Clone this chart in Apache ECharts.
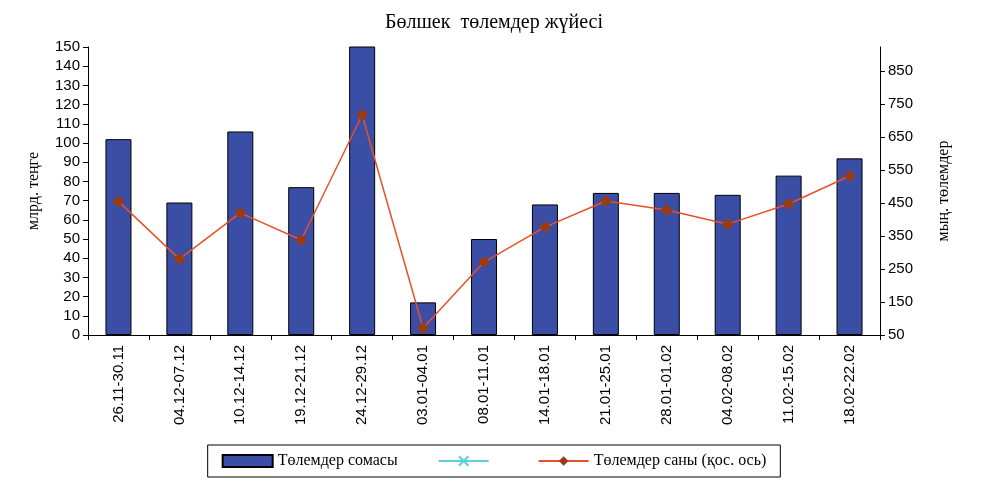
<!DOCTYPE html>
<html>
<head>
<meta charset="utf-8">
<script src="https://cdn.jsdelivr.net/npm/echarts@6/dist/echarts.min.js"></script>
<style>
  html, body { margin: 0; padding: 0; background: #fff; }
  #chart { width: 988px; height: 486px; }
</style>
</head>
<body>
<div id="chart"></div>
<script>
// Деректер
var categories = ['26.11-30.11', '04.12-07.12', '10.12-14.12', '19.12-21.12', '24.12-29.12', '03.01-04.01',
  '08.01-11.01', '14.01-18.01', '21.01-25.01', '28.01-01.02', '04.02-08.02', '11.02-15.02', '18.02-22.02'];
var sumValues = [102, 69, 106, 77, 160, 17, 50, 68, 74, 74, 73, 83, 92];
var countValues = [455, 280, 420, 338, 717, 71, 271, 377, 456, 429, 386, 447, 532];
var emptyValues = categories.map(function () { return null; });

var myChart = echarts.init(document.getElementById('chart'));
var axisCommon = {
  axisLine: { show: true, lineStyle: { color: '#000' } },
  axisTick: { show: true, inside: false, length: 5, lineStyle: { color: '#000' } },
  axisLabel: { color: '#000', fontFamily: 'Arial, Liberation Sans', fontSize: 15 },
  splitLine: { show: false }
};

var option = {
  animation: false,
  title: {
    text: 'Бөлшек  төлемдер жүйесі',
    left: 'center', top: 8,
    textStyle: { fontFamily: 'Liberation Serif', fontWeight: 'normal', fontSize: 20, color: '#000' }
  },
  grid: { left: 88, right: 108, top: 47, bottom: 151 },
  legend: {
    bottom: 9, left: 'center',
    itemGap: 40, itemWidth: 50, itemHeight: 12,
    borderColor: '#000', borderWidth: 1, padding: [8, 14],
    textStyle: { fontFamily: 'Liberation Serif', fontSize: 16, color: '#000' },
    data: [
      { name: 'Төлемдер сомасы', icon: 'rect' },
      { name: ' ' },
      { name: 'Төлемдер саны (қос. ось)' }
    ]
  },
  xAxis: Object.assign({}, axisCommon, {
    type: 'category',
    data: categories,
    axisTick: { show: true, alignWithLabel: false, lineStyle: { color: '#000' } },
    axisLabel: { color: '#000', fontFamily: 'Arial, Liberation Sans', fontSize: 15, rotate: 90, interval: 0, margin: 10 }
  }),
  yAxis: [
    Object.assign({}, axisCommon, {
      type: 'value', min: 0, max: 150, interval: 10,
      name: 'млрд. теңге', nameLocation: 'middle', nameGap: 46, nameRotate: 90,
      nameTextStyle: { fontFamily: 'Liberation Serif', fontSize: 16, color: '#000' }
    }),
    Object.assign({}, axisCommon, {
      type: 'value', min: 50, max: 923, interval: 100, position: 'right',
      axisLabel: { color: '#000', fontFamily: 'Arial, Liberation Sans', fontSize: 15, showMaxLabel: false },
      name: 'мың. төлемдер', nameLocation: 'middle', nameGap: 56, nameRotate: 90,
      nameTextStyle: { fontFamily: 'Liberation Serif', fontSize: 16, color: '#000' }
    })
  ],
  series: [
    {
      name: 'Төлемдер сомасы', type: 'bar', data: sumValues, barWidth: 26, clip: true,
      itemStyle: { color: '#3b4ea6', borderColor: '#000', borderWidth: 1 }
    },
    {
      name: ' ', type: 'line', data: emptyValues, symbol: 'path://M0,0L10,10M10,0L0,10', symbolSize: 10,
      itemStyle: { color: '#5fd0d8', borderColor: '#5fd0d8', borderWidth: 1.5 }, lineStyle: { color: '#5fd0d8' }
    },
    {
      name: 'Төлемдер саны (қос. ось)', type: 'line', yAxisIndex: 1, data: countValues,
      symbol: 'diamond', symbolSize: 12,
      itemStyle: { color: '#9c3a12' }, lineStyle: { color: '#e8502a', width: 1.5 }
    }
  ]
};

if (option && typeof option === "object") {
  myChart.setOption(option, true);
}
</script>
</body>
</html>
